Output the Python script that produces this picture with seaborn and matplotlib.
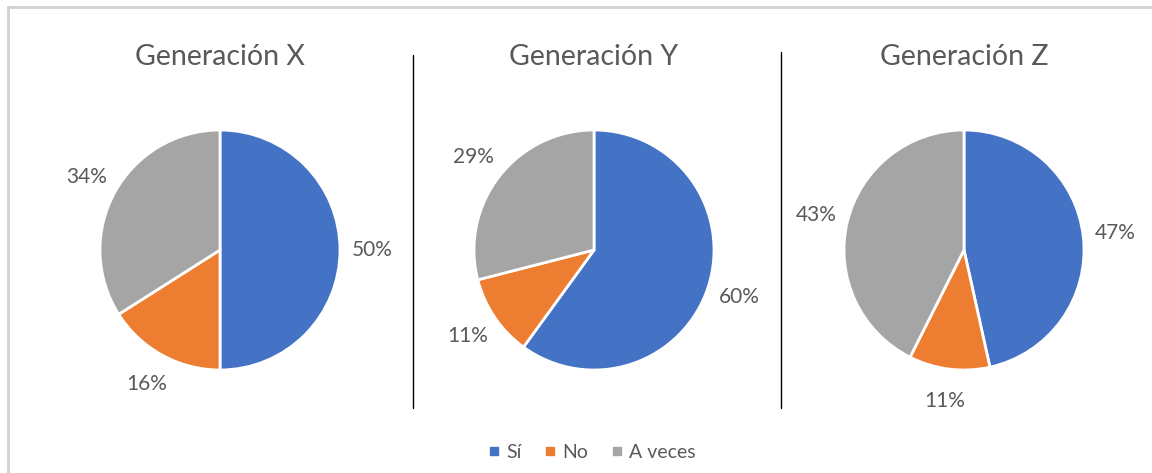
"""Pie charts: Sí / No / A veces por generación."""

import matplotlib
matplotlib.use("Agg")
from matplotlib import pyplot as plt
from matplotlib.lines import Line2D
import seaborn as sb

# data
generations = ["Generación X", "Generación Y", "Generación Z"]
answers = ["Sí", "No", "A veces"]
gen_x = [50, 16, 34]
gen_y = [60, 11, 29]
gen_z = [47, 11, 43]
values = [gen_x, gen_y, gen_z]

sb.set_theme(style="white")
plt.rcParams['font.family'] = ['Lato', 'DejaVu Sans']
colors = ["#4472C4", "#ED7D31", "#A5A5A5"]
text_color = "#595959"

W, H = 1152, 473
fig = plt.figure(figsize=(W / 100, H / 100), dpi=100)

# outer frame (only top and left edges visible in the crop)
frame = dict(transform=fig.transFigure, color="#D0D0D0", linewidth=2)
fig.add_artist(Line2D([8 / W, 1.0], [(H - 7) / H, (H - 7) / H], **frame))
fig.add_artist(Line2D([8 / W, 8 / W], [(H - 7) / H, 0.0], **frame))

centers = [(220, 250), (594, 250), (964, 250)]
radius = 120
half = 175
lim = half / radius

for (cx, cy), title, vals in zip(centers, generations, values):
    ax = fig.add_axes([(cx - half) / W, (H - cy - half) / H, 2 * half / W, 2 * half / H])
    total = sum(vals)
    labels = [f"{round(100 * v / total)}%" for v in vals]
    ax.pie(vals, colors=colors, startangle=90, counterclock=False,
           labels=labels, labeldistance=1.27,
           wedgeprops=dict(edgecolor="white", linewidth=2),
           textprops=dict(color=text_color, fontsize=15, ha="center", va="center"))
    ax.set_xlim(-lim, lim)
    ax.set_ylim(-lim, lim)
    ax.axis("off")
    fig.text(cx / W, (H - 57) / H, title, ha="center", va="center",
             fontsize=20.5, color=text_color)

# separators
for x, y0, y1 in [(413, 55, 408), (781, 52, 408)]:
    fig.add_artist(Line2D([x / W, x / W], [(H - y0) / H, (H - y1) / H],
                          transform=fig.transFigure, color="black", linewidth=1))

handles = [Line2D([], [], marker="s", linestyle="", color=c, markersize=6) for c in colors]
fig.legend(handles, answers, loc="center", bbox_to_anchor=(590 / W, (H - 452) / H),
           ncol=3, frameon=False, fontsize=14, labelcolor=text_color,
           handletextpad=0.1, columnspacing=1.0, handlelength=1)

fig.savefig("out.png", dpi=100)
